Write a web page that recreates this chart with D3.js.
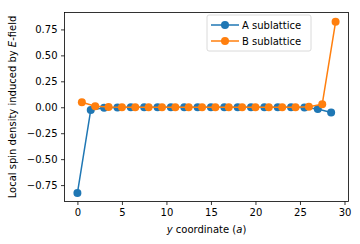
<!DOCTYPE html>
<html>
<head>
<meta charset="utf-8">
<script src="https://cdn.jsdelivr.net/npm/d3@7"></script>
<style>
body { margin: 0; background: #fff; }
svg { display: block; font-family: "DejaVu Sans", sans-serif; }
</style>
</head>
<body>
<svg id="grafico"></svg>
<script>
"use strict"
// dati
const xA = [0, 1.5, 3, 4.5, 6, 7.5, 9, 10.5, 12, 13.5, 15, 16.5, 18, 19.5, 21, 22.5, 24, 25.5, 27, 28.5];
const yA = [-0.827, -0.026, -0.004, -0.002, -0.001, 0, 0, 0, 0, 0, 0, 0, 0, 0, 0, -0.001, -0.001, -0.003, -0.016, -0.05];
const xB = [0.5, 2, 3.5, 5, 6.5, 8, 9.5, 11, 12.5, 14, 15.5, 17, 18.5, 20, 21.5, 23, 24.5, 26, 27.5, 29];
const yB = [0.048, 0.01, 0.002, 0.001, 0, 0, 0, 0, 0, 0, 0, 0, 0, 0, 0, 0.001, 0.001, 0.004, 0.03, 0.823];
const serie = ["A sublattice", "B sublattice"];
const colori = ["#1f77b4", "#ff7f0e"];
const xTicks = [0, 5, 10, 15, 20, 25, 30];
const yTicks = [-0.75, -0.5, -0.25, 0, 0.25, 0.5, 0.75];

const grafico = { w: 360, h: 244 };
const area = { sx: 64.5, dx: 348.5, su: 12.5, giu: 201.5 };

const svg = d3.select("#grafico")
    .attr("width", grafico.w)
    .attr("height", grafico.h);

const scalaX = d3.scaleLinear()
    .domain([-1.45, 30.45])
    .range([area.sx, area.dx]);

const scalaY = d3.scaleLinear()
    .domain([-0.908, 0.913])
    .range([area.giu, area.su]);

const dati = [
    xA.map(function (x, i) { return { x: x, y: yA[i] } }),
    xB.map(function (x, i) { return { x: x, y: yB[i] } })
];

const linea = d3.line()
    .x(function (d) { return scalaX(d.x) })
    .y(function (d) { return scalaY(d.y) });

dati.forEach(function (d, k) {
    const g = svg.append("g");
    g.append("path")
        .datum(d)
        .attr("d", linea)
        .attr("fill", "none")
        .attr("stroke", colori[k])
        .attr("stroke-width", 1.5);
    g.selectAll("circle")
        .data(d)
        .enter()
        .append("circle")
        .attr("cx", function (p) { return scalaX(p.x) })
        .attr("cy", function (p) { return scalaY(p.y) })
        .attr("r", 4)
        .attr("fill", colori[k]);
});

// assi
const asseX = d3.axisBottom(scalaX)
    .tickValues(xTicks)
    .tickSize(3.5)
    .tickPadding(3.5)
    .tickFormat(d3.format("d"));

svg.append("g")
    .attr("transform", `translate(0, ${area.giu})`)
    .call(asseX);

const asseY = d3.axisLeft(scalaY)
    .tickValues(yTicks)
    .tickSize(3.5)
    .tickPadding(3.5)
    .tickFormat(function (d) { return d3.format(".2f")(d).replace("-", "\u2212") });

svg.append("g")
    .attr("transform", `translate(${area.sx}, 0)`)
    .call(asseY);

svg.selectAll(".domain").remove();
svg.selectAll(".tick line").attr("stroke", "#000").attr("stroke-width", 0.8);
svg.selectAll(".tick text")
    .attr("font-size", "10px")
    .attr("font-family", "DejaVu Sans")
    .attr("fill", "#000");

svg.append("rect")
    .attr("x", area.sx)
    .attr("y", area.su)
    .attr("width", area.dx - area.sx)
    .attr("height", area.giu - area.su)
    .attr("fill", "none")
    .attr("stroke", "#000")
    .attr("stroke-width", 0.8);

// etichette
const etX = svg.append("text")
    .attr("x", (area.sx + area.dx) / 2)
    .attr("y", 233)
    .attr("text-anchor", "middle")
    .attr("font-size", "10px");
etX.append("tspan").attr("font-style", "italic").text("y");
etX.append("tspan").text(" coordinate (");
etX.append("tspan").attr("font-style", "italic").text("a");
etX.append("tspan").text(")");

const etY = svg.append("text")
    .attr("transform", `translate(15.5, ${(area.su + area.giu) / 2}) rotate(-90)`)
    .attr("text-anchor", "middle")
    .attr("font-size", "10px");
etY.append("tspan").text("Local spin density induced by ");
etY.append("tspan").attr("font-style", "italic").text("E");
etY.append("tspan").text("-field");

// legenda
const legenda = svg.append("g");
legenda.append("rect")
    .attr("x", 207)
    .attr("y", 15)
    .attr("width", 104)
    .attr("height", 36)
    .attr("rx", 2)
    .attr("fill", "#fff")
    .attr("fill-opacity", 0.8)
    .attr("stroke", "#d0d0d0")
    .attr("stroke-width", 0.8);

serie.forEach(function (s, k) {
    const yy = 25 + k * 16;
    legenda.append("line")
        .attr("x1", 211)
        .attr("x2", 239)
        .attr("y1", yy)
        .attr("y2", yy)
        .attr("stroke", colori[k])
        .attr("stroke-width", 1.5);
    legenda.append("circle")
        .attr("cx", 225)
        .attr("cy", yy)
        .attr("r", 4)
        .attr("fill", colori[k]);
    legenda.append("text")
        .attr("x", 242)
        .attr("y", yy + 3.6)
        .attr("font-size", "10px")
        .text(s);
});
</script>
</body>
</html>
